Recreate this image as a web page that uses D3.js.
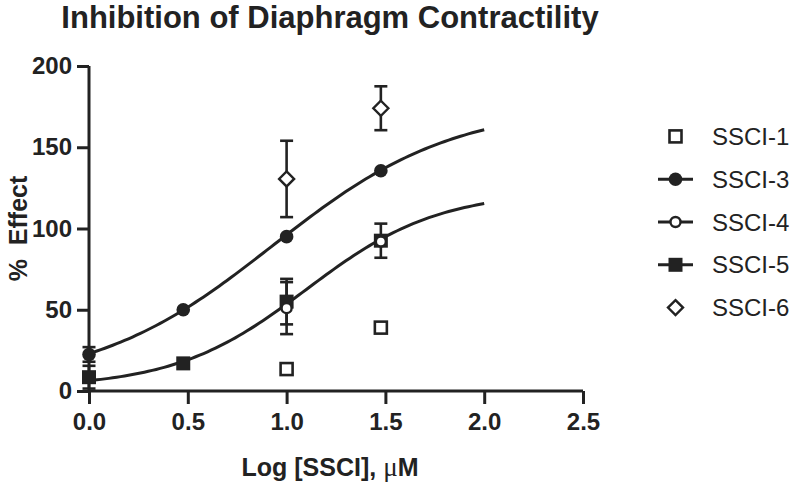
<!DOCTYPE html>
<html><head><meta charset="utf-8">
<script src="https://cdn.jsdelivr.net/npm/d3@7"></script>
<style>
html,body{margin:0;padding:0;background:#fff;}
svg{display:block;font-family:"Liberation Sans",Arial,Helvetica,sans-serif;}
</style></head>
<body><svg id="c" width="800" height="482"></svg>
<script>
// ---- data ----
const xTicks = [0, 0.5, 1.0, 1.5, 2.0, 2.5];
const yTicks = [0, 50, 100, 150, 200];
const seriesNames = ["SSCI-1", "SSCI-3", "SSCI-4", "SSCI-5", "SSCI-6"];
const logDose = [0, 0.477, 1.0, 1.477];
const ssci1 = [null, null, 13.5, 39];
const ssci1Err = [null, null, null, null];
const ssci3 = [22.5, 50, 95, 135.5];
const ssci3Err = [4.5, null, null, null];
const ssci4 = [null, null, 51, 92];
const ssci4Err = [null, null, 16, null];
const ssci5 = [8.5, 17, 55, 92.5];
const ssci5Err = [7, null, 14, 10.5];
const ssci6 = [null, null, 130.5, 174];
const ssci6Err = [null, null, 23.5, 13.5];
// fitted four-parameter logistic curves: [bottom, top, logEC50, hill]
const fit3 = [3, 176, 0.93, 0.95];
const fit45 = [2, 123, 1.1, 1.3];
const fitRange = [0, 2.0];

// ---- chart ----
const svg = d3.select("#c");
const x = d3.scaleLinear().domain([0, 2.5]).range([89, 583]);
const y = d3.scaleLinear().domain([0, 200]).range([391, 66]);
const ink = "#222";

svg.append("text").attr("x", 330).attr("y", 28).attr("text-anchor", "middle")
  .attr("font-size", 31).attr("font-weight", "bold").attr("fill", ink)
  .text("Inhibition of Diaphragm Contractility");

const xAxis = svg.append("g").attr("transform", `translate(0,${y(0)})`)
  .call(d3.axisBottom(x).tickValues(xTicks).tickFormat(d3.format(".1f")).tickSizeOuter(0).tickSize(13).tickPadding(9));
const yAxis = svg.append("g").attr("transform", `translate(${x(0)},0)`)
  .call(d3.axisLeft(y).tickValues(yTicks).tickSizeOuter(0).tickSize(12).tickPadding(5));
[xAxis, yAxis].forEach(a => {
  a.select(".domain").attr("stroke", ink).attr("stroke-width", 3);
  a.selectAll(".tick line").attr("stroke", ink).attr("stroke-width", 3);
  a.selectAll(".tick text").attr("fill", ink).attr("font-size", 24).attr("font-weight", "bold")
    .attr("font-family", "Liberation Sans, Arial, sans-serif");
});
xAxis.select(".domain").attr("d", `M${x(0)},0H${x(2.5)}`);
yAxis.select(".domain").attr("d", `M0,${y(200)}V${y(0)}`);

const xt = svg.append("text").attr("x", 330).attr("y", 476).attr("text-anchor", "middle")
  .attr("font-size", 25).attr("font-weight", "bold").attr("fill", ink);
xt.append("tspan").text("Log [SSCI], ");
xt.append("tspan").attr("font-family", "Liberation Serif, serif").attr("font-weight", "normal").attr("font-size", 27).text("μ");
xt.append("tspan").text("M");
svg.append("text").attr("transform", `translate(27,${y(100)}) rotate(-90)`).attr("text-anchor", "middle")
  .attr("font-size", 25).attr("font-weight", "bold").attr("fill", ink)
  .attr("xml:space", "preserve").style("white-space", "pre")
  .text("%  Effect");

// curves
function logistic(p) { return v => p[0] + (p[1] - p[0]) / (1 + Math.pow(10, (p[2] - v) * p[3])); }
const line = d3.line().x(d => x(d[0])).y(d => y(d[1]));
[fit3, fit45].forEach(p => {
  const f = logistic(p);
  const pts = d3.range(fitRange[0], fitRange[1] + 0.0001, 0.02).map(v => [v, f(v)]);
  svg.append("path").attr("d", line(pts)).attr("fill", "none").attr("stroke", ink).attr("stroke-width", 3);
});

// markers
function drawMarker(g, type, cx, cy) {
  if (type === "osq") g.append("rect").attr("x", cx - 6).attr("y", cy - 6).attr("width", 12).attr("height", 12)
    .attr("fill", "#fff").attr("stroke", ink).attr("stroke-width", 2.6);
  if (type === "fcirc") g.append("circle").attr("cx", cx).attr("cy", cy).attr("r", 6.8).attr("fill", ink);
  if (type === "ocirc") g.append("circle").attr("cx", cx).attr("cy", cy).attr("r", 5).attr("fill", "#fff")
    .attr("stroke", ink).attr("stroke-width", 2.4);
  if (type === "fsq") g.append("rect").attr("x", cx - 7).attr("y", cy - 7).attr("width", 14).attr("height", 14).attr("fill", ink);
  if (type === "odia") g.append("path").attr("d", `M${cx},${cy - 7.5}L${cx + 7.5},${cy}L${cx},${cy + 7.5}L${cx - 7.5},${cy}Z`)
    .attr("fill", "#fff").attr("stroke", ink).attr("stroke-width", 2.4);
}
const series = [
  {vals: ssci1, err: ssci1Err, m: "osq"},
  {vals: ssci3, err: ssci3Err, m: "fcirc", line: true},
  {vals: ssci5, err: ssci5Err, m: "fsq", line: true},
  {vals: ssci4, err: ssci4Err, m: "ocirc", line: true},
  {vals: ssci6, err: ssci6Err, m: "odia"}
];
const legendOrder = [0, 1, 3, 2, 4];
const gErr = svg.append("g"), gPts = svg.append("g");
series.forEach(s => {
  s.vals.forEach((v, i) => {
    if (v == null) return;
    const cx = x(logDose[i]);
    const e = s.err[i];
    if (e != null) {
      const y0 = y(v - e), y1 = y(v + e);
      gErr.append("line").attr("x1", cx).attr("x2", cx).attr("y1", y0).attr("y2", y1).attr("stroke", ink).attr("stroke-width", 2.6);
      [y0, y1].forEach(yy => gErr.append("line").attr("x1", cx - 6.5).attr("x2", cx + 6.5).attr("y1", yy).attr("y2", yy)
        .attr("stroke", ink).attr("stroke-width", 2.6));
    }
    drawMarker(gPts, s.m, cx, y(v));
  });
});

// legend
const legY = d3.scaleBand().domain(seriesNames).range([115, 329]);
legendOrder.forEach((si, k) => {
  const s = series[si];
  const name = seriesNames[k];
  const cy = legY(name) + legY.bandwidth() / 2;
  const g = svg.append("g");
  if (s.line) g.append("line").attr("x1", 658).attr("x2", 693).attr("y1", cy).attr("y2", cy).attr("stroke", ink).attr("stroke-width", 3);
  drawMarker(g, s.m, 675.5, cy);
  g.append("text").attr("x", 712).attr("y", cy).attr("dy", "0.36em").attr("font-size", 24).attr("fill", ink).text(name);
});
</script></body></html>
